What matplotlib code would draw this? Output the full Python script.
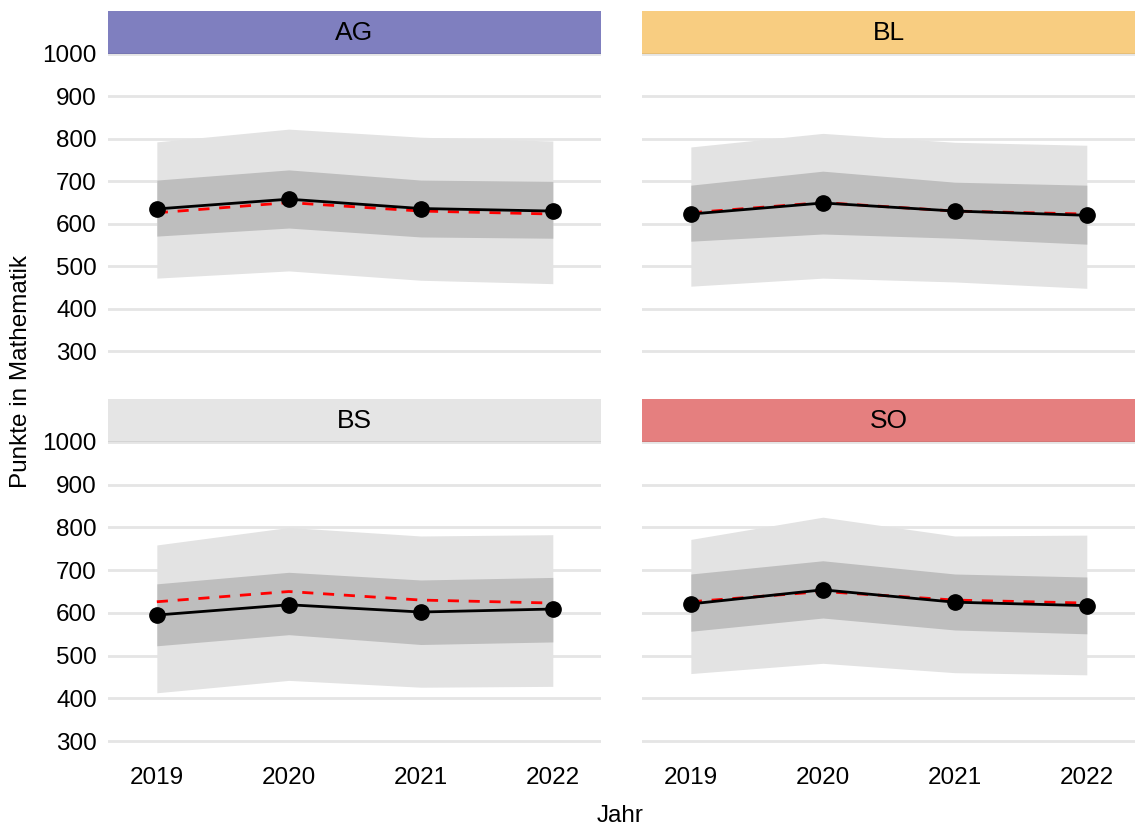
import numpy as np
import matplotlib.pyplot as plt

plt.rcParams['font.family'] = ['Liberation Sans', 'DejaVu Sans']

years = [2019, 2020, 2021, 2022]
cantons = ["AG", "BL", "BS", "SO"]
strip_colors = ["#7F7FBF", "#F8CD81", "#E5E5E5", "#E57F7F"]

# overall mean (red dashed line, same in every panel)
overall = [626, 650, 630, 623]

# canton means
mean_ag = [635, 658, 636, 630]
mean_bl = [623, 649, 630, 620]
mean_bs = [595, 619, 602, 609]
mean_so = [621, 654, 625, 617]

# inner band (dark grey)
inner_lo_ag = [571, 590, 569, 566]
inner_hi_ag = [703, 727, 703, 700]
inner_lo_bl = [559, 576, 566, 552]
inner_hi_bl = [691, 724, 698, 691]
inner_lo_bs = [523, 549, 526, 532]
inner_hi_bs = [668, 695, 677, 683]
inner_lo_so = [557, 588, 560, 551]
inner_hi_so = [691, 722, 691, 684]

# outer band (light grey)
outer_lo_ag = [472, 489, 467, 459]
outer_hi_ag = [793, 823, 804, 795]
outer_lo_bl = [453, 472, 463, 448]
outer_hi_bl = [781, 813, 792, 785]
outer_lo_bs = [413, 442, 426, 428]
outer_hi_bs = [759, 800, 780, 783]
outer_lo_so = [458, 482, 460, 455]
outer_hi_so = [772, 824, 780, 782]

means = [mean_ag, mean_bl, mean_bs, mean_so]
inner_lo = [inner_lo_ag, inner_lo_bl, inner_lo_bs, inner_lo_so]
inner_hi = [inner_hi_ag, inner_hi_bl, inner_hi_bs, inner_hi_so]
outer_lo = [outer_lo_ag, outer_lo_bl, outer_lo_bs, outer_lo_so]
outer_hi = [outer_hi_ag, outer_hi_bl, outer_hi_bs, outer_hi_so]

W, H = 1135, 831
fig = plt.figure(figsize=(W / 100, H / 100), dpi=100)

# panel boxes in pixels: (left, top, right, bottom)
panel_px = [(108, 54, 601, 366), (642, 54, 1135, 366),
            (108, 442, 601, 756), (642, 442, 1135, 756)]
strip_h = 43

for i, c in enumerate(cantons):
    l, t, r, b = panel_px[i]
    ax = fig.add_axes([l / W, 1 - b / H, (r - l) / W, (b - t) / H])
    ax.fill_between(years, outer_lo[i], outer_hi[i], color="#E3E3E3", lw=0, zorder=2)
    ax.fill_between(years, inner_lo[i], inner_hi[i], color="#BEBEBE", lw=0, zorder=3)
    ax.plot(years, overall, color="red", lw=2, ls=(0, (4, 3.5)), zorder=4)
    ax.plot(years, means[i], color="black", lw=2, zorder=5)
    ax.plot(years, means[i], "o", color="black", ms=11, zorder=6)

    ax.set_xlim(2019 - 0.37, 2022 + 0.365)
    ax.set_ylim(265, 1000)
    ax.set_yticks(range(300, 1001, 100))
    ax.set_xticks(years)
    ax.grid(axis="y", color="#E5E5E5", lw=2, zorder=0)
    ax.set_axisbelow(True)
    for s in ax.spines.values():
        s.set_visible(False)
    ax.tick_params(length=0, labelsize=17.5, colors="black", pad=8)
    if i % 2 == 1:
        ax.tick_params(labelleft=False)
    if i < 2:
        ax.tick_params(labelbottom=False)

    sax = fig.add_axes([l / W, 1 - t / H, (r - l) / W, strip_h / H])
    sax.set_facecolor(strip_colors[i])
    sax.set_xticks([])
    sax.set_yticks([])
    for s in sax.spines.values():
        s.set_visible(False)
    sax.axhline(0, color="black", alpha=0.08, lw=2)
    sax.text(0.5, 0.5, c, ha="center", va="center", fontsize=19, transform=sax.transAxes)

fig.text(620 / W, 1 - 816 / H, "Jahr", ha="center", va="center", fontsize=17.5)
fig.text(21 / W, 1 - 372 / H, "Punkte in Mathematik", ha="center", va="center",
         rotation=90, fontsize=17.5)

fig.savefig("out.png", dpi=100, facecolor="white")
